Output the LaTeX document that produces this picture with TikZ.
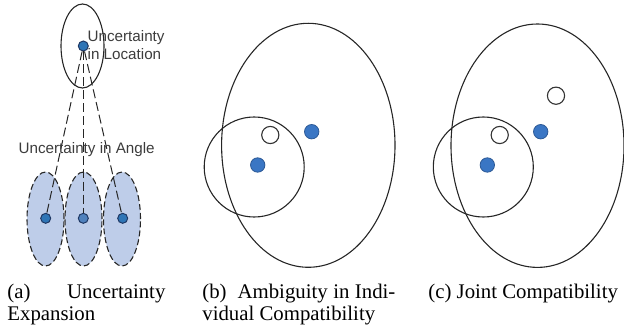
\documentclass[tikz,border=0pt]{standalone}
\usepackage{fontspec}
\setmainfont{Liberation Serif}
\newfontfamily\arialf{Liberation Sans}
\usetikzlibrary{shapes.geometric}
\definecolor{dotblue}{RGB}{46,117,182}
\definecolor{dotlight}{RGB}{79,129,189}
\definecolor{dotedge}{RGB}{31,56,100}
\definecolor{ellfill}{RGB}{190,205,233}
\definecolor{bcblue}{RGB}{58,118,196}
\definecolor{bcedge}{RGB}{45,90,150}
\definecolor{txtgray}{RGB}{60,60,60}
\begin{document}
\begin{tikzpicture}[x=0.5pt,y=-0.5pt,
  bigell/.style={ellipse, draw=black!85, line width=0.55pt, inner sep=0pt, outer sep=0pt},
  angell/.style={ellipse, draw=black!85, fill=ellfill, dash pattern=on 3pt off 1.5pt, line width=0.55pt, inner sep=0pt, outer sep=0pt, minimum width=18.5pt, minimum height=47pt},
  adot/.style={circle, draw=dotedge, fill=dotblue, line width=0.5pt, inner sep=0pt, minimum size=5pt},
  adotlight/.style={adot, fill=dotlight},
  bdot/.style={circle, draw=bcedge, fill=bcblue, line width=0.4pt, inner sep=0pt, minimum size=7.2pt},
  odot/.style={circle, draw=black!80, fill=white, line width=0.55pt, inner sep=0pt, minimum size=8.6pt},
  conn/.style={draw=black!85, line width=0.5pt, dash pattern=on 4.5pt off 2pt},
  sanslbl/.style={anchor=base west, inner sep=0pt, text=txtgray, font=\arialf\fontsize{7.6}{9}\selectfont},
  caplbl/.style={anchor=base west, inner sep=0pt, font=\fontsize{10.4}{10.85}\selectfont}
]
\useasboundingbox (0,0) rectangle (624,331);

% ---------- panel (a) ----------
\node[bigell, minimum width=21.5pt, minimum height=42pt] (loc) at (82.5,46) {};
\node[angell] (e1) at (45.5,219) {};
\node[angell] (e2) at (83.5,219) {};
\node[angell] (e3) at (122,219) {};
\node[adot] (t) at (83.3,46) {};
\node[adot] (d1) at (45.7,218.3) {};
\node[adotlight] (d2) at (83.3,218.3) {};
\node[adot] (d3) at (122.7,218.3) {};
\draw[conn] (t) -- (d1);
\draw[conn] (t) -- (d2);
\draw[conn] (t) -- (d3);
\node[sanslbl] (l1) at (87.3,41.7) {Uncertainty};
\node[sanslbl] (l2) at (87.3,59.3) {in Location};
\node[sanslbl] (l3) at (18.3,153.3) {Uncertainty in Angle};
\node[caplbl] (ca1) at (7,298) {\makebox[79pt][s]{(a) Uncertainty}};
\node[caplbl] (ca2) at (7,320) {Expansion};

% ---------- panel (b) ----------
\node[bigell, minimum width=86.7pt, minimum height=122pt] (bE) at (308.3,145.3) {};
\node[bigell, circle, minimum size=50pt] (bC) at (254.2,167) {};
\node[odot] (bo1) at (270.3,135) {};
\node[bdot] (bb1) at (311.7,131.7) {};
\node[bdot] (bb2) at (257.7,165) {};
\node[caplbl] (cb1) at (202,298) {\makebox[96.5pt][s]{(b)\ \ Ambiguity in Indi-}};
\node[caplbl] (cb2) at (202,320) {vidual Compatibility};

% ---------- panel (c) ----------
\node[bigell, minimum width=86.5pt, minimum height=121.7pt] (cE) at (537.5,145.7) {};
\node[bigell, circle, minimum size=50pt] (cC) at (483.3,167) {};
\node[odot] (co1) at (556,95.7) {};
\node[odot] (co2) at (499.7,135) {};
\node[bdot] (cb1d) at (540.7,131.7) {};
\node[bdot] (cb2d) at (487.3,165) {};
\node[caplbl] (cc1) at (428,298) {(c) Joint Compatibility};
\end{tikzpicture}
\end{document}
